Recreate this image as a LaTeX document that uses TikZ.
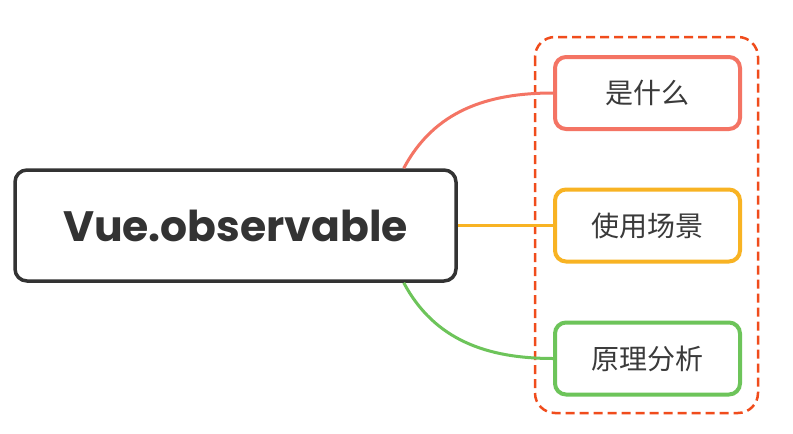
\documentclass[tikz,border=0pt]{standalone}
\usepackage{fontspec}
\setmainfont{Poppins}
\newfontfamily\cjk{Noto Sans CJK SC}
\usepackage{tikz}
\tikzset{>=stealth}
\definecolor{topicgray}{HTML}{333333}
\definecolor{txtgray}{HTML}{3A3A3A}
\definecolor{redline}{HTML}{F47464}
\definecolor{yellowline}{HTML}{F8B323}
\definecolor{greenline}{HTML}{6DC45A}
\definecolor{dashred}{HTML}{F04C1C}
\tikzset{
  topic/.style={draw=topicgray, line width=3.5pt, rounded corners=12pt, minimum width=441pt, minimum height=111pt, fill=white, text=topicgray, font=\fontsize{42.5}{46}\selectfont\bfseries},
  subtopic/.style={line width=4pt, rounded corners=11pt, minimum width=185pt, minimum height=72pt, fill=white, text=txtgray, font=\cjk\fontsize{28}{31}\selectfont},
  branch/.style={line width=3pt}
}

\begin{document}
\begin{tikzpicture}[x=1pt,y=1pt]
          \useasboundingbox (0,0) rectangle (793,-434);
          \fill[white] (0,0) rectangle (793,-434);
          % group frame
          \draw[dashred, line width=2.5pt, dash pattern=on 9pt off 5pt, rounded corners=20pt] (535,-37) rectangle (758,-413);
          \node[topic] (main) at (235.5,-225.5) {Vue.observable};
          \node[subtopic, draw=redline] (what) at (647.5,-93) {是什么};
          \node[subtopic, draw=yellowline] (use) at (647.5,-225.5) {使用场景};
          \node[subtopic, draw=greenline] (how) at (647.5,-358.5) {原理分析};
          \begin{scope}[branch]
            \draw[redline] ([xshift=-54pt]main.north east) to[out=62,in=180] (what.west);
            \draw[yellowline] (main.east) -- (use.west);
            \draw[greenline] ([xshift=-54pt]main.south east) to[out=-62,in=180] (how.west);
          \end{scope}
        \end{tikzpicture}
\end{document}
